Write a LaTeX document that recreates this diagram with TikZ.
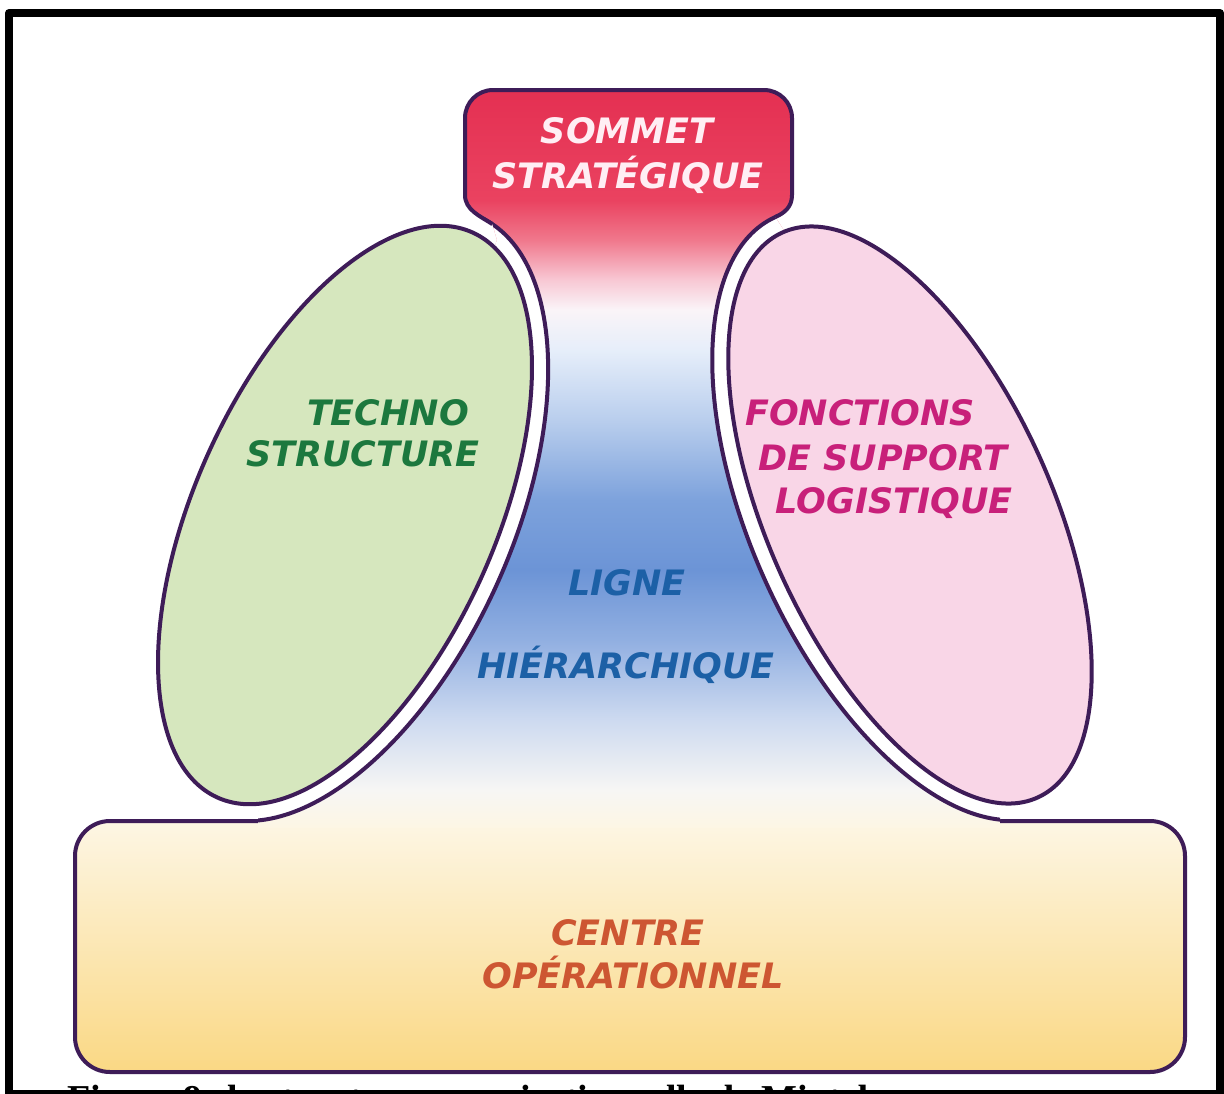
\documentclass[tikz,border=0pt]{standalone}
\usepackage{fontspec}
\newfontfamily\lblfont{DejaVu Sans}
\newfontfamily\capfont{Liberation Serif}

\definecolor{edge}{RGB}{62,28,88}
\definecolor{greenfill}{RGB}{214,231,190}
\definecolor{pinkfill}{RGB}{249,214,231}
\definecolor{boxtop}{RGB}{253,246,228}
\definecolor{boxmid}{RGB}{252,234,192}
\definecolor{boxbot}{RGB}{250,216,132}
\definecolor{sommettxt}{RGB}{255,238,244}
\definecolor{technotxt}{RGB}{28,120,62}
\definecolor{supporttxt}{RGB}{200,32,122}
\definecolor{lignetxt}{RGB}{28,96,166}
\definecolor{centretxt}{RGB}{205,86,50}

% vertical colour stops of the central column (bottom to top)
\definecolor{k0}{RGB}{253,246,228}
\definecolor{k1}{RGB}{247,246,244}
\definecolor{k2}{RGB}{205,218,240}
\definecolor{k3}{RGB}{145,175,225}
\definecolor{k4}{RGB}{108,148,214}
\definecolor{k5}{RGB}{125,162,220}
\definecolor{k6}{RGB}{185,206,237}
\definecolor{k7}{RGB}{230,238,250}
\definecolor{k8}{RGB}{250,244,248}
\definecolor{k9}{RGB}{248,200,212}
\definecolor{k10}{RGB}{240,120,140}
\definecolor{k11}{RGB}{234,66,96}
\definecolor{k12}{RGB}{228,48,82}
\pgfdeclareverticalshading{colshade}{100bp}{color(0bp)=(k0); color(25bp)=(k0);
  color(27.57bp)=(k1); color(32.32bp)=(k2); color(37.74bp)=(k3);
  color(42.48bp)=(k4); color(47.22bp)=(k5); color(52.64bp)=(k6);
  color(57.38bp)=(k7); color(60.10bp)=(k8); color(62.13bp)=(k9);
  color(64.84bp)=(k10); color(67.55bp)=(k11); color(75bp)=(k12); color(100bp)=(k12)}

% outline of the summit box together with the hierarchy column
\newcommand\colpath{(492.4,224.1) .. controls (480,216) and (465,210) .. (465,195)
  -- (465,118) .. controls (465,102.5) and (477.5,90) .. (493,90)
  -- (764,90) .. controls (779.5,90) and (792,102.5) .. (792,118)
  -- (792,195) .. controls (792,207) and (784.5,212.9) .. (775.4,217)
  -- (790,240) -- (810,400) -- (890,600) -- (965,760) -- (1000,812) -- (1000,828)
  -- (258,828) -- (258,812) -- (290,760) -- (360,600) -- (440,400) -- (497,240) -- cycle}

\begin{document}
\begin{tikzpicture}[x=1pt,y=-1pt,line join=round]
\tikzset{
  outline/.style={draw=edge,line width=4pt},
  lbl/.style={font=\lblfont\bfseries\itshape\fontsize{35pt}{40pt}\selectfont,
    inner sep=0pt,anchor=base},
}
\useasboundingbox (0,0) rectangle (1224,1093);
\clip (0,0) rectangle (1224,1093);
\fill[white] (0,0) rectangle (1224,1093);

% operating core
\shadedraw[outline,rounded corners=35pt,top color=boxtop,middle color=boxmid,
  bottom color=boxbot] (75,821) rectangle (1185,1072);

% summit and middle line
\shade[shading=colshade] \colpath;
\begin{scope}
  \clip \colpath;
  \path[fill=white,outline,rotate around={65.7:(345,515)}]
    (345,515) ellipse [x radius=327pt,y radius=167pt];
  \path[fill=white,outline,rotate around={-65.7:(910,515)}]
    (910,515) ellipse [x radius=327pt,y radius=159pt];
\end{scope}
\draw[outline] (492.4,224.1) .. controls (480,216) and (465,210) .. (465,195)
  -- (465,118) .. controls (465,102.5) and (477.5,90) .. (493,90)
  -- (764,90) .. controls (779.5,90) and (792,102.5) .. (792,118)
  -- (792,195) .. controls (792,207) and (784.5,212.9) .. (775.4,217);

% technostructure and support staff
\path[fill=greenfill,outline,rotate around={65.7:(345,515)}]
  (345,515) ellipse [x radius=310pt,y radius=150pt];
\path[fill=pinkfill,outline,rotate around={-65.7:(910,515)}]
  (910,515) ellipse [x radius=310pt,y radius=142pt];

% labels
\node[lbl,text=sommettxt] (sommet) at (627,143) {SOMMET};
\node[lbl,text=sommettxt] (strat) at (628,188) {STRATÉGIQUE};
\node[lbl,text=technotxt] (techno) at (388,425) {TECHNO};
\node[lbl,text=technotxt] (structure) at (363,466) {STRUCTURE};
\node[lbl,text=supporttxt] (fonctions) at (860,425) {FONCTIONS};
\node[lbl,text=supporttxt] (desupport) at (883,470) {DE SUPPORT};
\node[lbl,text=supporttxt] (logistique) at (894,513) {LOGISTIQUE};
\node[lbl,text=lignetxt] (ligne) at (627,595) {LIGNE};
\node[lbl,text=lignetxt] (hierarchique) at (626,678) {HIÉRARCHIQUE};
\node[lbl,text=centretxt] (centre) at (628,945) {CENTRE};
\node[lbl,text=centretxt] (operationnel) at (633,988) {OPÉRATIONNEL};

% frame and caption
\draw[line width=8pt] (9,13) rectangle (1220,1094);
\node[font=\capfont\bfseries\fontsize{38pt}{40pt}\selectfont,anchor=base west,
  inner sep=0pt] (caption) at (67,1111) {Figure 9: la structure organisationnelle de Mintzberg};
\end{tikzpicture}
\end{document}
